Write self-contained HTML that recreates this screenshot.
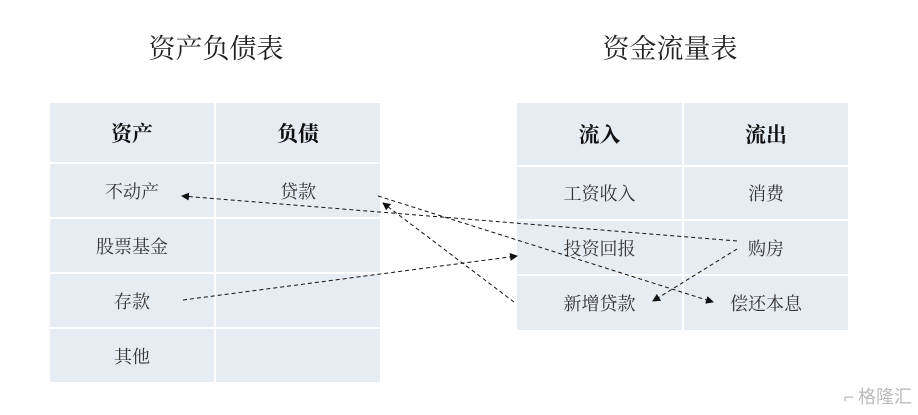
<!DOCTYPE html>
<html><head><meta charset="utf-8"><style>
body{margin:0;width:918px;height:415px;background:#fff;position:relative;overflow:hidden;font-family:"Liberation Serif","Noto Serif CJK SC",serif;}
.t{position:absolute;font-size:27px;color:#222;text-align:center;width:300px;top:27px;}
.c{position:absolute;background:#e7ebf2;display:flex;align-items:center;justify-content:center;font-size:18px;color:#333;}
.h{font-weight:bold;font-size:21px;color:#111;}
svg{position:absolute;left:0;top:0;}
.wm{position:absolute;right:6px;bottom:6px;font-size:18px;color:#bbb;font-family:"Noto Sans CJK SC",sans-serif;}
</style></head><body>
<div class="t" style="left:66px">资产负债表</div>
<div class="t" style="left:520px">资金流量表</div>

<div class="c h" style="left:50px;top:103px;width:164px;height:59px">资产</div>
<div class="c h" style="left:216px;top:103px;width:164px;height:59px">负债</div>
<div class="c" style="left:50px;top:164px;width:164px;height:53px">不动产</div>
<div class="c" style="left:216px;top:164px;width:164px;height:53px">贷款</div>
<div class="c" style="left:50px;top:219px;width:164px;height:53px">股票基金</div>
<div class="c" style="left:216px;top:219px;width:164px;height:53px"></div>
<div class="c" style="left:50px;top:274px;width:164px;height:53px">存款</div>
<div class="c" style="left:216px;top:274px;width:164px;height:53px"></div>
<div class="c" style="left:50px;top:329px;width:164px;height:53px">其他</div>
<div class="c" style="left:216px;top:329px;width:164px;height:53px"></div>

<div class="c h" style="left:517px;top:103px;width:165px;height:62px">流入</div>
<div class="c h" style="left:684px;top:103px;width:164px;height:62px">流出</div>
<div class="c" style="left:517px;top:167px;width:165px;height:52px">工资收入</div>
<div class="c" style="left:684px;top:167px;width:164px;height:52px">消费</div>
<div class="c" style="left:517px;top:221px;width:165px;height:53px">投资回报</div>
<div class="c" style="left:684px;top:221px;width:164px;height:53px">购房</div>
<div class="c" style="left:517px;top:276px;width:165px;height:54px">新增贷款</div>
<div class="c" style="left:684px;top:276px;width:164px;height:54px">偿还本息</div>

<svg width="918" height="415">
<defs><marker id="a" markerWidth="8" markerHeight="8" refX="7" refY="4" orient="auto" markerUnits="userSpaceOnUse"><path d="M0,0 L8,4 L0,8z" fill="#111"/></marker></defs>
<g stroke="#111" stroke-width="1" stroke-dasharray="4,3" fill="none">
<line x1="737" y1="241" x2="182" y2="196" marker-end="url(#a)"/>
<line x1="378" y1="196" x2="713" y2="302" marker-end="url(#a)"/>
<line x1="514" y1="302" x2="383" y2="203" marker-end="url(#a)"/>
<line x1="183" y1="300" x2="517" y2="256" marker-end="url(#a)"/>
<line x1="737" y1="249" x2="653" y2="301" marker-end="url(#a)"/>
</g></svg>
<div class="wm">⌐ 格隆汇</div>
</body></html>
